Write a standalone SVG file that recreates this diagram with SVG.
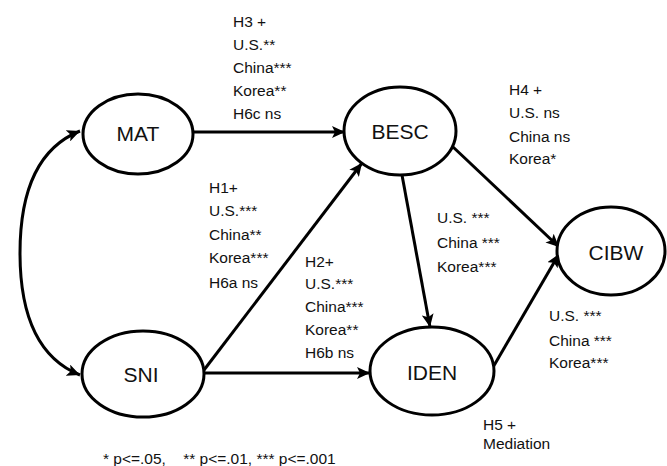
<svg xmlns="http://www.w3.org/2000/svg" width="667" height="466" viewBox="0 0 667 466">
<defs>
<marker id="ah" markerWidth="14" markerHeight="12" refX="13" refY="6" orient="auto-start-reverse" markerUnits="userSpaceOnUse">
<path d="M0,0 L13,6 L0,12 L3,6 Z" fill="#000"/>
</marker>
<style>
.node ellipse{fill:#fff;stroke:#000;stroke-width:3}
.node text{font-family:"Liberation Sans",Arial,sans-serif;font-size:21px;fill:#111;text-anchor:middle}
.conn path,.conn line{stroke:#000;stroke-width:3;fill:none;marker-end:url(#ah)}
.lbl{font-family:"Liberation Sans",Arial,sans-serif;font-size:15.5px;fill:#111}
.foot{font-family:"Liberation Sans",Arial,sans-serif;font-size:15.5px;fill:#111}
</style>
</defs>
<rect width="667" height="466" fill="#fff"/>
<g id="connectors" class="conn">
<path d="M80,375 C30,355 20,300 20,253 C20,206 30,151 80,131" style="marker-start:url(#ah)"/>
<line x1="193" y1="132" x2="345" y2="132"/>
<line x1="204" y1="370" x2="362" y2="163"/>
<line x1="204" y1="373" x2="370" y2="373"/>
<line x1="402" y1="175" x2="430" y2="327"/>
<line x1="452" y1="146" x2="559" y2="247"/>
<line x1="492" y1="369" x2="559" y2="254"/>
</g>
<g id="MAT" class="node"><ellipse cx="138" cy="134" rx="55" ry="40"/><text x="138" y="141">MAT</text></g>
<g id="BESC" class="node"><ellipse cx="400" cy="131" rx="56" ry="44"/><text x="400" y="139">BESC</text></g>
<g id="SNI" class="node"><ellipse cx="143" cy="374" rx="61" ry="43"/><text x="141" y="382">SNI</text></g>
<g id="IDEN" class="node"><ellipse cx="432" cy="371" rx="62" ry="44"/><text x="432" y="380">IDEN</text></g>
<g id="CIBW" class="node"><ellipse cx="611" cy="251" rx="54" ry="44"/><text x="616" y="260">CIBW</text></g>
<g id="labels" class="lbl">
<text x="233" y="27">H3 +</text>
<text x="233" y="50">U.S.**</text>
<text x="233" y="73">China***</text>
<text x="233" y="96">Korea**</text>
<text x="233" y="119">H6c ns</text>
<text x="209" y="193">H1+</text>
<text x="209" y="216">U.S.***</text>
<text x="209" y="240">China**</text>
<text x="209" y="263">Korea***</text>
<text x="209" y="288">H6a ns</text>
<text x="305" y="267">H2+</text>
<text x="305" y="289">U.S.***</text>
<text x="305" y="312">China***</text>
<text x="305" y="335">Korea**</text>
<text x="305" y="358">H6b ns</text>
<text x="509" y="95">H4 +</text>
<text x="509" y="118">U.S. ns</text>
<text x="509" y="142">China ns</text>
<text x="509" y="164">Korea*</text>
<text x="437" y="223">U.S. ***</text>
<text x="437" y="248">China ***</text>
<text x="437" y="272">Korea***</text>
<text x="549" y="321">U.S. ***</text>
<text x="549" y="346">China ***</text>
<text x="549" y="368">Korea***</text>
<text x="483" y="430">H5 +</text>
<text x="483" y="449">Mediation</text>
</g>
<text class="foot" x="103" y="464" xml:space="preserve">* p&lt;=.05,    ** p&lt;=.01, *** p&lt;=.001</text>
</svg>
